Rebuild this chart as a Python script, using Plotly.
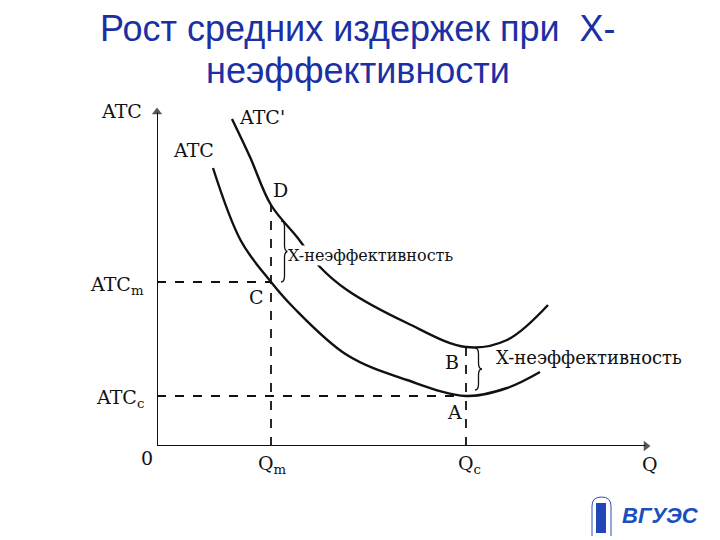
import plotly.graph_objects as go

# ---- data (diagram units) ----
atc_q = [11.2, 16.8, 22.8, 27.2, 38.0, 50.0, 61.8, 70.0, 76.6]
atc_v = [55.6, 41.0, 32.8, 27.8, 18.2, 13.2, 10.0, 11.6, 14.8]

atc2_q = [15.0, 18.6, 22.8, 28.0, 32.6, 38.0, 50.0, 61.8, 70.0, 78.2]
atc2_v = [65.4, 57.8, 48.2, 41.8, 35.8, 31.2, 24.6, 19.8, 21.2, 28.2]

Qm, Qc = 22.8, 61.8
ATCm, ATCc = 32.8, 10.0
D_val, B_val = 48.2, 19.8

Y_MAX, X_MAX = 68.2, 99.2

BLACK = "#111111"
SERIF = "DejaVu Serif"
TBLUE = "#1b30a3"

fig = go.Figure()
# axes with arrow heads
fig.add_trace(go.Scatter(x=[0, 0], y=[0, Y_MAX - 1.5], mode="lines", line=dict(color=BLACK, width=2),
                         hoverinfo="skip", cliponaxis=False))
fig.add_trace(go.Scatter(x=[0], y=[Y_MAX - 1.4], mode="markers",
                         marker=dict(symbol="triangle-up", size=[9], color=BLACK, line=dict(width=0)),
                         hoverinfo="skip", cliponaxis=False))
fig.add_trace(go.Scatter(x=[0, X_MAX - 1.5], y=[0, 0], mode="lines", line=dict(color=BLACK, width=2),
                         hoverinfo="skip", cliponaxis=False))
fig.add_trace(go.Scatter(x=[X_MAX - 1.4], y=[0], mode="markers",
                         marker=dict(symbol="triangle-right", size=[9], color=BLACK, line=dict(width=0)),
                         hoverinfo="skip", cliponaxis=False))

fig.add_trace(go.Scatter(x=atc_q, y=atc_v, mode="lines", line=dict(color=BLACK, width=2.4, shape="spline"),
                         hoverinfo="skip"))
fig.add_trace(go.Scatter(x=atc2_q, y=atc2_v, mode="lines", line=dict(color=BLACK, width=2.4, shape="spline"),
                         hoverinfo="skip"))

dash = dict(color=BLACK, width=1.8, dash="dash")
fig.add_trace(go.Scatter(x=[0, Qm], y=[ATCm, ATCm], mode="lines", line=dash, hoverinfo="skip"))
fig.add_trace(go.Scatter(x=[Qm, Qm], y=[0, D_val], mode="lines", line=dash, hoverinfo="skip"))
fig.add_trace(go.Scatter(x=[0, Qc], y=[ATCc, ATCc], mode="lines", line=dash, hoverinfo="skip"))
fig.add_trace(go.Scatter(x=[Qc, Qc], y=[0, B_val], mode="lines", line=dash, hoverinfo="skip"))


def brace(x, y0, y1, w):
    xm = x + w / 2
    ym = (y0 + y1) / 2
    d = 1.2
    return (f"M {x},{y1} Q {xm},{y1} {xm},{y1-d} L {xm},{ym+d} Q {xm},{ym} {x+w},{ym} "
            f"Q {xm},{ym} {xm},{ym-d} L {xm},{y0+d} Q {xm},{y0} {x},{y0}")


# the page body adds an 8px offset, so paper pixels are shifted
OFF = 8


def px2paper(px, py):
    return (px - 157) / 500, (446 - py) / 350


shapes = [
    dict(type="path", path=brace(24.8, 32.8, 45.0, 1.4), line=dict(color=BLACK, width=1.3), xref="x", yref="y"),
    dict(type="path", path=brace(63.6, 11.2, 19.6, 1.4), line=dict(color=BLACK, width=1.3), xref="x", yref="y"),
]

# small logo emblem (arch with figure)
ax0, ay0 = px2paper(592, 536)
ax1, ay1 = px2paper(611, 497)
shapes.append(dict(type="path", xref="paper", yref="paper",
                   path=f"M {ax0},{ay0} L {ax0},{(ay0+ay1)/2+0.03} Q {ax0},{ay1} {(ax0+ax1)/2},{ay1} "
                        f"Q {ax1},{ay1} {ax1},{(ay0+ay1)/2+0.03} L {ax1},{ay0}",
                   line=dict(color="#2a4fb8", width=1)))
fx0, fy0 = px2paper(596, 533)
fx1, fy1 = px2paper(606, 503)
shapes.append(dict(type="rect", xref="paper", yref="paper", x0=fx0, x1=fx1, y0=fy0, y1=fy1,
                   fillcolor="#2147b5", line=dict(width=0)))

ann = []


def lab(x, y, t, xa="center", size=19, bg=None):
    d = dict(x=x, y=y, xref="x", yref="y", text=t, showarrow=False, xanchor=xa, yanchor="middle",
             font=dict(family=SERIF, size=size, color=BLACK))
    if bg:
        d["bgcolor"] = bg
        d["borderpad"] = 0
    ann.append(d)


def plab(px, py, t, xa="center", size=19):
    x, y = px2paper(px, py)
    ann.append(dict(x=x, y=y, xref="paper", yref="paper", text=t, showarrow=False, xanchor=xa,
                    yanchor="middle", font=dict(family=SERIF, size=size, color=BLACK)))


lab(16.0, 65.8, "ATC'", xa="left")
lab(7.2, 59.2, "ATC")
lab(24.6, 51.2, "D")
lab(19.8, 29.8, "C")
lab(26.0, 38.2, "X-неэффективность", xa="left", size=16, bg="white")
lab(59.0, 16.8, "B")
lab(67.4, 17.8, "X-неэффективность", xa="left", size=18)
lab(59.4, 6.8, "A")

plab(121, 111, "ATC")
plab(146, 285, "ATC<sub>m</sub>", xa="right")
plab(146, 398, "ATC<sub>c</sub>", xa="right")
plab(147, 458, "0")
plab(272, 464, "Q<sub>m</sub>")
plab(469, 464, "Q<sub>c</sub>")
plab(650, 464, "Q")

# title
tx, ty = px2paper(358, 29)
ann.append(dict(x=tx, y=ty, xref="paper", yref="paper", text="Рост средних издержек при  X-", showarrow=False,
                xanchor="center", yanchor="middle", font=dict(family="Liberation Sans", size=36, color=TBLUE)))
tx, ty = px2paper(358, 70)
ann.append(dict(x=tx, y=ty, xref="paper", yref="paper", text="неэффективности", showarrow=False,
                xanchor="center", yanchor="middle", font=dict(family="Liberation Sans", size=36, color=TBLUE)))
lx, ly = px2paper(660, 515)
ann.append(dict(x=lx, y=ly, xref="paper", yref="paper", text="<b><i>ВГУЭС</i></b>", showarrow=False,
                xanchor="center", yanchor="middle", font=dict(family="Liberation Sans", size=22, color="#1a4fc0")))

fig.update_layout(
    width=720, height=540,
    margin=dict(l=157 - OFF, r=63 + OFF, t=96 - OFF, b=94 + OFF),
    paper_bgcolor="white", plot_bgcolor="white",
    showlegend=False,
    xaxis=dict(range=[0, 100], visible=False),
    yaxis=dict(range=[0, 70], visible=False),
    shapes=shapes,
    annotations=ann,
)

fig.write_html("out.html")
